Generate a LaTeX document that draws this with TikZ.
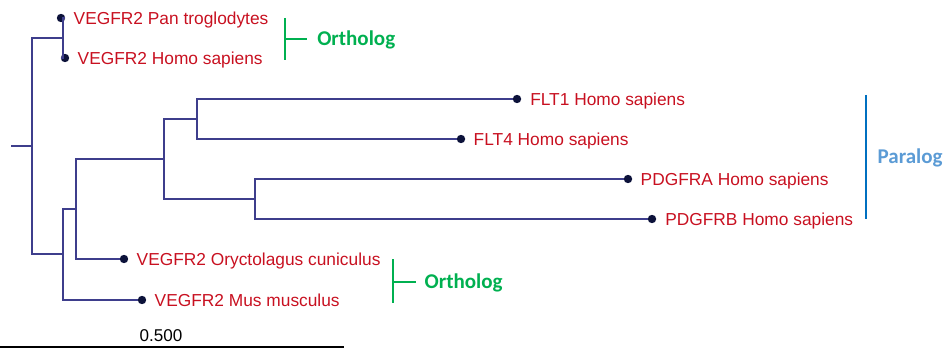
\documentclass[tikz,border=0pt]{standalone}
\usepackage{fontspec}
\setmainfont{Liberation Sans}
\newfontfamily\grupofont{Carlito}
\usepackage{tikz}
\usetikzlibrary{positioning,calc}
\definecolor{rama}{RGB}{62,62,140}
\definecolor{punto}{RGB}{12,18,58}
\definecolor{etiqueta}{RGB}{200,16,32}
\definecolor{orto}{RGB}{0,176,80}
\definecolor{para}{RGB}{0,112,192}
\definecolor{paratexto}{RGB}{91,155,213}

\begin{document}
\begin{tikzpicture}[x=0.75pt, y=-0.75pt,
  ramo/.style={draw=rama, line width=1.1pt},
  hoja/.style={circle, fill=punto, inner sep=0pt, minimum size=6.3pt},
  lbl/.style={anchor=west, inner sep=0pt, text=etiqueta,
              font=\fontsize{13}{15}\selectfont, text height=9.3pt, text depth=0pt},
  brk/.style={line width=2.2pt},
  grupo/.style={anchor=west, inner sep=0pt, font=\grupofont\bfseries\fontsize{15.75}{18}\selectfont,
                text height=10.1pt, text depth=0pt}]
  \useasboundingbox (0,0) rectangle (944,349);
  % internal nodes
  \coordinate (raiz) at (11,146);
  \coordinate (n0) at (32,146);
  \coordinate (n1) at (63,38);
  \coordinate (n2) at (63,254);
  \coordinate (n3) at (76,209);
  \coordinate (n4) at (164,159);
  \coordinate (n5) at (197,119);
  \coordinate (n6) at (255,199);
  % leaves
  \node[hoja] (pan) at (61,18) {};
  \node[hoja] (homo) at (65,58) {};
  \node[hoja] (flt1) at (517,99) {};
  \node[hoja] (flt4) at (461,139) {};
  \node[hoja] (pdgfra) at (628,179) {};
  \node[hoja] (pdgfrb) at (652,219) {};
  \node[hoja] (oryc) at (124,259) {};
  \node[hoja] (mus) at (142,300) {};
  \node[lbl, right=6pt of pan] (panl) {VEGFR2 Pan troglodytes};
  \node[lbl, right=6pt of homo] (homol) {VEGFR2 Homo sapiens};
  \node[lbl, right=6.4pt of flt1] (flt1l) {FLT1 Homo sapiens};
  \node[lbl, right=6pt of flt4] (flt4l) {FLT4 Homo sapiens};
  \node[lbl, right=6pt of pdgfra] (pdgfral) {PDGFRA Homo sapiens};
  \node[lbl, right=6.4pt of pdgfrb] (pdgfrbl) {PDGFRB Homo sapiens};
  \node[lbl, right=6pt of oryc] (orycl) {VEGFR2 Oryctolagus cuniculus};
  \node[lbl, right=6pt of mus] (musl) {VEGFR2 Mus musculus};
  % branches
  \draw[ramo] (raiz) -- (n0);
  \draw[ramo] (n0) |- (n1);
  \draw[ramo] (n0) |- (n2);
  \draw[ramo] (n1) |- (pan);
  \draw[ramo] (n1) |- (homo);
  \draw[ramo] (n2) |- (n3);
  \draw[ramo] (n2) |- (mus);
  \draw[ramo] (n3) |- (n4);
  \draw[ramo] (n3) |- (oryc);
  \draw[ramo] (n4) |- (n5);
  \draw[ramo] (n4) |- (n6);
  \draw[ramo] (n5) |- (flt1);
  \draw[ramo] (n5) |- (flt4);
  \draw[ramo] (n6) |- (pdgfra);
  \draw[ramo] (n6) |- (pdgfrb);
  % group brackets
  \coordinate (o1a) at (285,18);
  \coordinate (o1b) at (285,60);
  \coordinate (o1m) at (285,39);
  \node[grupo, text=orto, right=24pt of o1m] (orto1) {Ortholog};
  \draw[brk, orto] (o1a) -- (o1b);
  \draw[brk, orto, shorten >=7.5pt] (o1m) -- (orto1);
  \coordinate (o2a) at (393,259);
  \coordinate (o2b) at (393,303);
  \coordinate (o2m) at (393,282);
  \node[grupo, text=orto, right=23.5pt of o2m] (orto2) {Ortholog};
  \draw[brk, orto] (o2a) -- (o2b);
  \draw[brk, orto, shorten >=6pt] (o2m) -- (orto2);
  \coordinate (pa) at (866,95);
  \coordinate (pb) at (866,219);
  \draw[brk, para] (pa) -- (pb);
  \node[grupo, text=paratexto, right=8.5pt of {$(pa)!0.5!(pb)$}] (paral) {Paralog};
  % scale bar
  \coordinate (ea) at (0,347);
  \coordinate (eb) at (344,347);
  \draw[line width=1.1pt] (ea) -- (eb);
  \node[inner sep=0pt, font=\fontsize{12.8}{14}\selectfont, text height=9.2pt, text depth=0pt]
       (escala) at (161,335.5) {0.500};
\end{tikzpicture}
\end{document}
